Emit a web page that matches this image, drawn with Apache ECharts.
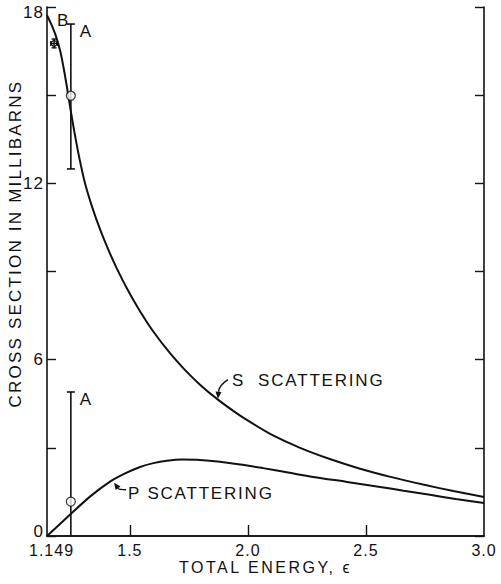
<!DOCTYPE html>
<html>
<head>
<meta charset="utf-8">
<script src="https://cdn.jsdelivr.net/npm/echarts@6/dist/echarts.min.js"></script>
<style>
html,body{margin:0;padding:0;background:#fff;}
#c{width:501px;height:584px;}
#c svg text{letter-spacing:1px;}
</style>
</head>
<body>
<div id="c"></div>
<script>
// ---- data ----
const sEnergy = [1.149, 1.165, 1.185, 1.205, 1.220, 1.235, 1.250, 1.265, 1.285, 1.310, 1.340, 1.373, 1.410, 1.445, 1.490, 1.543, 1.600, 1.670, 1.730, 1.797, 1.873, 1.950, 2.009, 2.100, 2.221, 2.350, 2.475, 2.600, 2.742, 2.870, 3.000];
const sValues = [17.72, 17.45, 17.05, 16.50, 15.90, 15.20, 14.45, 13.75, 12.90, 12.00, 11.20, 10.45, 9.72, 9.10, 8.39, 7.65, 6.95, 6.22, 5.68, 5.15, 4.64, 4.19, 3.88, 3.45, 3.00, 2.61, 2.29, 2.02, 1.75, 1.53, 1.33];
const pEnergy = [1.149, 1.246, 1.331, 1.416, 1.480, 1.543, 1.600, 1.657, 1.720, 1.797, 1.882, 1.970, 2.064, 2.170, 2.276, 2.420, 2.560, 2.660, 2.771, 2.880, 3.000];
const pValues = [0.0, 0.72, 1.34, 1.85, 2.13, 2.35, 2.48, 2.56, 2.60, 2.59, 2.53, 2.43, 2.31, 2.16, 2.01, 1.84, 1.67, 1.54, 1.40, 1.26, 1.12];

// experimental points "A" (S wave and P wave)
const aEnergy = [1.25, 1.25];
const aValues = [14.98, 1.17];
const aLow = [12.49, 0.0];
const aHigh = [17.42, 4.9];
const aLabels = ['A', 'A'];

// experimental point "B"
const bEnergy = [1.179];
const bValues = [16.76];
const bEnergyErr = [0.014];
const bValueErr = [0.15];

const xLabelValues = [1.149, 1.5, 2.0, 2.5, 3.0];
const xTickValues = [1.5, 2.0, 2.5];
const yMin = 0, yMax = 18, yStep = 3, yLabelStep = 6;

const xTitle = 'TOTAL ENERGY, ϵ';
const yTitle = 'CROSS SECTION IN MILLIBARNS';
const curveLabels = {s: 'S  SCATTERING', p: 'P SCATTERING'};

// ---- chart ----
const FONT = '"Liberation Sans", Arial, sans-serif';
const FS = 17;
const FSX = 16;
const INK = '#111';
const chart = echarts.init(document.getElementById('c'), null, {renderer: 'svg'});

const sData = sEnergy.map((e, i) => [e, sValues[i]]);
const pData = pEnergy.map((e, i) => [e, pValues[i]]);
const aData = aEnergy.map((e, i) => [e, aValues[i], aLow[i], aHigh[i]]);
const bData = bEnergy.map((e, i) => [e, bValues[i], bEnergyErr[i], bValueErr[i]]);

const yAxisCommon = {
  type: 'value', min: yMin, max: yMax, interval: yStep,
  splitLine: {show: false},
  axisLine: {show: true, lineStyle: {color: INK, width: 1.6}},
  axisTick: {show: true, inside: true, length: 9, lineStyle: {color: INK, width: 1.4}}
};

chart.setOption({
  animation: false,
  backgroundColor: '#fff',
  grid: {left: 47, right: 17, top: 7, bottom: 48, outerBoundsMode: 'none'},
  xAxis: [{
    type: 'value', min: 1.149, max: 3.0,
    splitLine: {show: false},
    axisLine: {show: true, lineStyle: {color: INK, width: 1.6}},
    axisTick: {show: true, inside: true, length: 11, customValues: xTickValues, lineStyle: {color: INK, width: 1.4}},
    axisLabel: {
      customValues: xLabelValues, color: INK, fontFamily: FONT, fontSize: FSX, lineHeight: 14, margin: 7,
      formatter: v => (Math.abs(v - 1.149) < 1e-6 ? '{first|1.149}' : v.toFixed(1)),
      rich: {first: {fontFamily: FONT, fontSize: FSX, lineHeight: 14, color: INK, padding: [0, 0, 0, 9]}}
    },
    name: xTitle, nameLocation: 'middle', nameGap: 24, nameMoveOverlap: false,
    nameTextStyle: {color: INK, fontFamily: FONT, fontSize: FSX, lineHeight: 14}
  }, {
    type: 'value', min: 1.149, max: 3.0, position: 'top',
    splitLine: {show: false},
    axisLine: {show: true, lineStyle: {color: INK, width: 1.6}},
    axisTick: {show: false}, axisLabel: {show: false}
  }],
  yAxis: [Object.assign({}, yAxisCommon, {
    position: 'left',
    axisLabel: {
      color: INK, fontFamily: FONT, fontSize: FS, margin: 3,
      formatter: function (v) {
        if (v % yLabelStep !== 0) return '';
        if (v === yMin) return '{lo|' + v + '}';
        if (v === yMax) return '{hi|' + v + '}';
        return String(v);
      },
      rich: {
        lo: {fontFamily: FONT, fontSize: FS, color: INK, padding: [0, 0, 10, 0]},
        hi: {fontFamily: FONT, fontSize: FS, color: INK, padding: [11, 0, 0, 0]}
      }
    }
  }), Object.assign({}, yAxisCommon, {
    position: 'right', axisLabel: {show: false}
  })],
  series: [{
    name: 'S', type: 'line', data: sData, smooth: 0.25, showSymbol: false,
    lineStyle: {color: INK, width: 2}, z: 3
  }, {
    name: 'P', type: 'line', data: pData, smooth: 0.3, showSymbol: false,
    lineStyle: {color: INK, width: 2}, z: 3
  }, {
    name: 'A bars', type: 'custom', data: aData, clip: true, z: 4,
    renderItem: function (params, api) {
      const x = api.value(0), lo = api.value(2), hi = api.value(3);
      const top = api.coord([x, hi]);
      const bot = api.coord([x, lo]);
      const cap = 4;
      const st = {stroke: INK, lineWidth: 1.6};
      const children = [
        {type: 'line', shape: {x1: top[0], y1: top[1], x2: bot[0], y2: bot[1]}, style: st},
        {type: 'line', shape: {x1: top[0] - cap, y1: top[1], x2: top[0] + cap, y2: top[1]}, style: st},
        {type: 'text', x: top[0] + 9, y: top[1] - 1,
          style: {text: aLabels[params.dataIndex], fill: INK, font: FS + 'px ' + FONT, textAlign: 'left', textVerticalAlign: 'top'}}
      ];
      if (lo > yMin) {
        children.push({type: 'line', shape: {x1: bot[0] - cap, y1: bot[1], x2: bot[0] + cap, y2: bot[1]}, style: st});
      }
      return {type: 'group', children: children};
    }
  }, {
    name: 'A points', type: 'scatter', data: aData.map(d => [d[0], d[1]]),
    symbol: 'circle', symbolSize: 9, z: 5,
    itemStyle: {color: '#fff', borderColor: INK, borderWidth: 1.3}
  }, {
    name: 'B', type: 'custom', data: bData, z: 5,
    renderItem: function (params, api) {
      const x = api.value(0), y = api.value(1), ex = api.value(2), ey = api.value(3);
      const c = api.coord([x, y]);
      const l = api.coord([x - ex, y]), r = api.coord([x + ex, y]);
      const t = api.coord([x, y + ey]), b = api.coord([x, y - ey]);
      const st = {stroke: INK, lineWidth: 1.4};
      const cap = 2.5;
      return {type: 'group', children: [
        {type: 'line', shape: {x1: l[0], y1: l[1], x2: r[0], y2: r[1]}, style: st},
        {type: 'line', shape: {x1: t[0], y1: t[1], x2: b[0], y2: b[1]}, style: st},
        {type: 'line', shape: {x1: l[0], y1: l[1] - cap, x2: l[0], y2: l[1] + cap}, style: st},
        {type: 'line', shape: {x1: r[0], y1: r[1] - cap, x2: r[0], y2: r[1] + cap}, style: st},
        {type: 'line', shape: {x1: t[0] - cap, y1: t[1], x2: t[0] + cap, y2: t[1]}, style: st},
        {type: 'line', shape: {x1: b[0] - cap, y1: b[1], x2: b[0] + cap, y2: b[1]}, style: st},
        {type: 'circle', shape: {cx: c[0], cy: c[1], r: 2.8}, style: {fill: 'none', stroke: INK, lineWidth: 1.3}},
        {type: 'text', x: c[0] + 3, y: c[1] - 31,
          style: {text: 'B', fill: INK, font: FS + 'px ' + FONT, textAlign: 'left', textVerticalAlign: 'top'}}
      ]};
    }
  }]
});

// curve labels with hooked arrows, anchored to points on the curves
function arrowGraphic(anchor, tail, ctrl, head) {
  const h = [anchor[0] + head[0], anchor[1] + head[1]];
  const t = [anchor[0] + tail[0], anchor[1] + tail[1]];
  const c = [anchor[0] + ctrl[0], anchor[1] + ctrl[1]];
  const dx = h[0] - c[0], dy = h[1] - c[1];
  const len = Math.hypot(dx, dy) || 1;
  const ux = dx / len, uy = dy / len;
  const al = 7, aw = 3;
  const base = [h[0] - ux * al, h[1] - uy * al];
  return [{
    type: 'bezierCurve',
    shape: {x1: t[0], y1: t[1], x2: base[0], y2: base[1], cpx1: c[0], cpy1: c[1]},
    style: {stroke: INK, lineWidth: 1.5, fill: 'none'}
  }, {
    type: 'polygon',
    shape: {points: [h, [base[0] - uy * aw, base[1] + ux * aw], [base[0] + uy * aw, base[1] - ux * aw]]},
    style: {fill: INK}
  }];
}

const sAnchor = chart.convertToPixel({gridIndex: 0}, [sEnergy[20], sValues[20]]);
const pAnchor = chart.convertToPixel({gridIndex: 0}, [pEnergy[3], pValues[3]]);
const yTitleCenter = chart.convertToPixel({gridIndex: 0}, [1.149, 9.95]);

chart.setOption({
  graphic: [].concat(
    arrowGraphic(sAnchor, [10, -20], [1, -14], [0, -1]),
    arrowGraphic(pAnchor, [16, 8], [9, 8], [4, 1]),
    [{
      type: 'text', x: sAnchor[0] + 14, y: sAnchor[1] - 19,
      style: {text: curveLabels.s, fill: INK, font: FS + 'px ' + FONT, textVerticalAlign: 'middle'}
    }, {
      type: 'text', x: pAnchor[0] + 18, y: pAnchor[1] + 12,
      style: {text: curveLabels.p, fill: INK, font: FS + 'px ' + FONT, textVerticalAlign: 'middle'}
    }, {
      type: 'text', id: 'ytitle', x: yTitleCenter[0] - 32, y: yTitleCenter[1], rotation: Math.PI / 2,
      style: {text: yTitle, fill: INK, font: FS + 'px ' + FONT, textAlign: 'center', textVerticalAlign: 'middle'}
    }]
  )
});

// wider lettering, as in the original hand-lettered drawing
const spacing = {};
spacing[yTitle] = '2.2px';
spacing[xTitle] = '2.5px';
spacing[curveLabels.s] = '1.8px';
spacing[curveLabels.p] = '1.8px';
function spaceTexts() {
  document.querySelectorAll('#c svg text').forEach(function (el) {
    const sp = spacing[el.textContent];
    if (sp) el.style.letterSpacing = sp;
  });
}
spaceTexts();
chart.on('finished', spaceTexts);
</script>
</body>
</html>
